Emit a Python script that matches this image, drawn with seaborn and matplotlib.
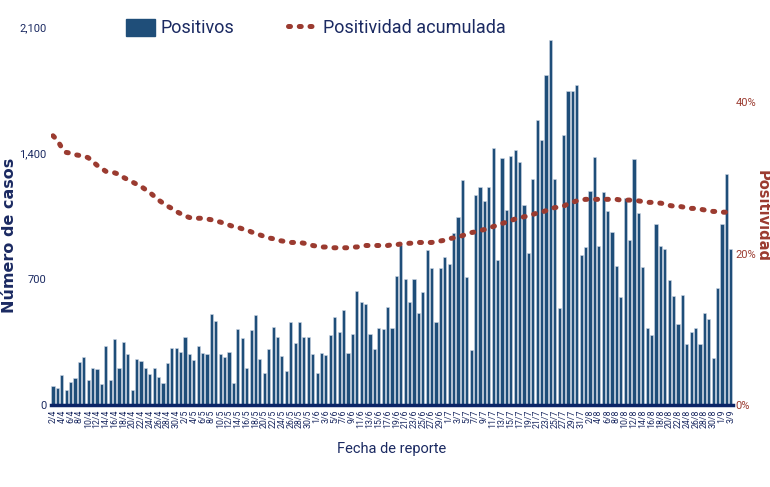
import numpy as np
import pandas as pd
import seaborn as sns
import matplotlib.pyplot as plt
from matplotlib.lines import Line2D
from matplotlib.patches import Patch

# Fechas de reporte (2/4 a 3/9), una barra por dia
fechas = [f"{d.day}/{d.month}" for d in pd.date_range("2020-04-02", "2020-09-03")]

positivos = [
    107, 93, 167, 82, 126, 152, 237, 267, 137, 207,
    200, 119, 330, 141, 370, 207, 348, 282, 82, 256,
    245, 207, 174, 207, 156, 122, 233, 319, 319, 293,
    378, 282, 248, 326, 289, 282, 508, 467, 282,
    267, 296, 122, 422, 374, 204, 415, 500, 256, 178,
    311, 433, 378, 274, 189, 463, 345, 463, 378, 378,
    285, 178, 289, 278, 389, 489, 407, 530, 289, 396,
    633, 574, 563, 393, 311, 426, 422, 545, 426,
    718, 888, 700, 573, 700, 514, 629, 862, 762, 459,
    762, 825, 781, 955, 1044, 1251, 710, 306, 1166, 1211,
    1133, 1211, 1425, 806, 1373, 1081, 1384, 1417, 1347, 1110,
    847, 1255,
    1583, 1472, 1832, 2024, 1254, 538, 1501, 1746, 1746, 1776,
    834, 879, 1186, 1376, 882, 1182, 1075, 960, 771, 600,
    1148, 915, 1364, 1065, 767, 430, 389, 1008, 882, 864,
    697, 604, 448, 613, 337, 408, 426, 341, 513, 480,
    263, 652, 1008, 1283, 867,
]

# Positividad acumulada (%)
positividad = [
    35.6, 35.0, 34.0, 33.4, 33.3, 33.1, 33.0, 32.9, 32.7, 32.2,
    31.7, 31.3, 30.9, 30.8, 30.7, 30.5, 30.1, 29.8, 29.5, 29.2,
    28.9, 28.5, 28.1, 27.6, 27.1, 26.7, 26.3, 26.0, 25.6, 25.3,
    25.0, 24.8, 24.7, 24.7, 24.7, 24.6, 24.5, 24.3, 24.2, 24.0,
    23.8, 23.6, 23.5, 23.3, 23.2, 22.9, 22.7, 22.5, 22.3, 22.1,
    22.0, 21.8, 21.7, 21.6, 21.5, 21.5, 21.5, 21.4, 21.3, 21.1,
    21.0, 20.9, 20.9, 20.8, 20.8, 20.8, 20.8, 20.8, 20.9, 20.9,
    21.0, 21.1, 21.1, 21.1, 21.1, 21.1, 21.1, 21.2, 21.2, 21.3,
    21.3, 21.4, 21.4, 21.5, 21.5, 21.5, 21.5, 21.6, 21.7, 21.8,
    22.0, 22.1, 22.2, 22.4, 22.6, 22.8, 22.9, 23.1, 23.2, 23.4,
    23.6, 23.8, 24.0, 24.2, 24.4, 24.6, 24.7, 24.9, 25.0, 25.2,
    25.4, 25.5, 25.7, 26.0, 26.1, 26.2, 26.3, 26.6, 26.8, 27.0,
    27.1, 27.2, 27.2, 27.2, 27.2, 27.2, 27.2, 27.2, 27.2, 27.1,
    27.1, 27.1, 27.0, 27.0, 26.9, 26.8, 26.8, 26.7, 26.7, 26.6,
    26.4, 26.3, 26.3, 26.2, 26.1, 26.0, 26.0, 25.9, 25.8, 25.7,
    25.6, 25.6, 25.5, 25.5, 25.5,
]

df = pd.DataFrame({"fecha": fechas, "positivos": positivos,
                   "positividad": np.array(positividad) / 100})
df["pos"] = np.arange(len(df))

azul = "#1F4E79"
navy = "#1B2A62"
rojo = "#9B3B30"

sns.set_theme(style="white")
plt.rcParams["font.family"] = ["Roboto", "DejaVu Sans"]

fig, ax = plt.subplots(figsize=(7.7, 4.87), dpi=100)
fig.subplots_adjust(left=0.066, right=0.952, top=0.945, bottom=0.168)

sns.barplot(data=df, x="fecha", y="positivos", color=azul, saturation=1,
            width=0.72, edgecolor="#cfd8e6", linewidth=0.4, ax=ax)

ax2 = ax.twinx()
sns.lineplot(data=df, x="pos", y="positividad", ax=ax2, color=rojo,
             linewidth=3.6, linestyle=(0, (0.4, 1.75)), dash_capstyle="round")

ax.set_xlim(-0.5, len(df) - 0.5)
ax.set_ylim(0, 2100)
ax.set_yticks([0, 700, 1400, 2100])
ax.set_yticklabels(["0", "700", "1,400", "2,100"], fontsize=8, color=navy)
ax.set_xticks(df["pos"][::2])
ax.set_xticklabels(fechas[::2], rotation=90, fontsize=6.3, color=navy)
ax.tick_params(axis="both", length=0, pad=3)

ax2.set_ylim(0, 0.5)
ax2.set_yticks([0, 0.2, 0.4])
ax2.set_yticklabels(["0%", "20%", "40%"], fontsize=8, color=rojo)
ax2.tick_params(axis="y", length=0, pad=2)

for a in (ax, ax2):
    for s in ("top", "left", "right"):
        a.spines[s].set_visible(False)
ax.spines["bottom"].set_color("#0B2466")
ax.spines["bottom"].set_linewidth(2.5)
ax2.spines["bottom"].set_visible(False)

ax.set_xlabel("Fecha de reporte", fontsize=10.5, color=navy, labelpad=10)
ax.set_ylabel("Número de casos", fontsize=11.5, fontweight="bold", color=navy,
              family=["DejaVu Sans"])
ax.yaxis.set_label_coords(-0.05, 0.45)
ax2.set_ylabel("Positividad", fontsize=10.5, fontweight="bold", color=rojo,
               family=["DejaVu Sans"], rotation=270, va="center")
ax2.yaxis.set_label_coords(1.043, 0.5)

handles = [Patch(color=azul),
           Line2D([0], [0], color=rojo, linewidth=3.6,
                  linestyle=(0, (0.4, 1.75)), dash_capstyle="round")]
fig.legend(handles, ["Positivos", "Positividad acumulada"], loc="upper center",
           bbox_to_anchor=(0.41, 0.995), ncol=2, frameon=False, fontsize=13,
           labelcolor=navy, handlelength=1.6, handleheight=1.1,
           handletextpad=0.3, columnspacing=3.0)

fig.savefig("out.png", dpi=100)
